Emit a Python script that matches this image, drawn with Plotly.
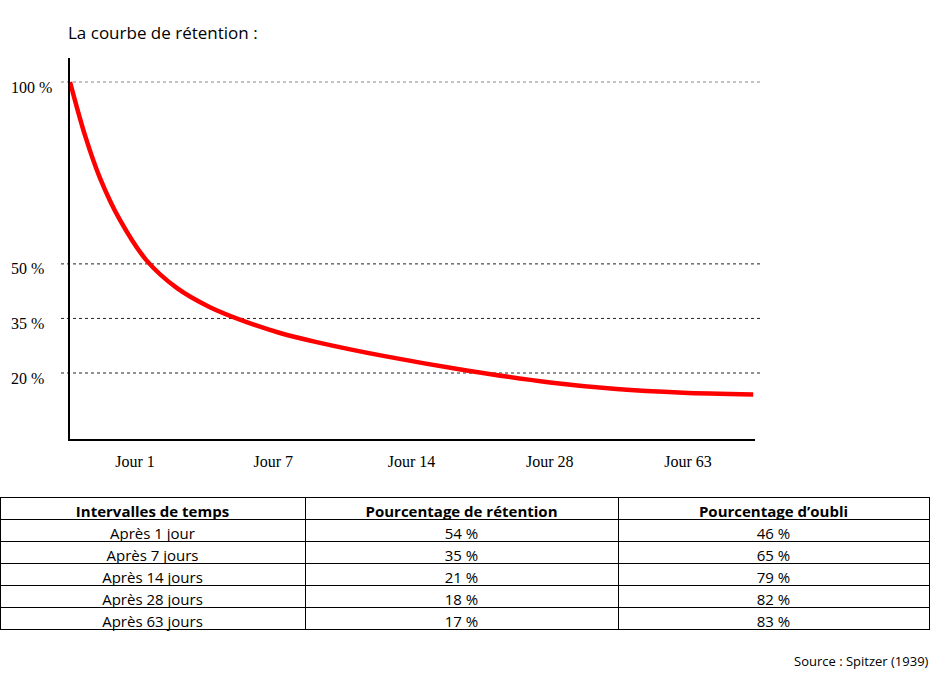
import plotly.graph_objects as go

# ---- data ----
title_text = "La courbe de rétention :"
source_text = "Source : Spitzer (1939)"

day_labels = ["Jour 1", "Jour 7", "Jour 14", "Jour 28", "Jour 63"]
day_positions = [1, 2, 3, 4, 5]

# retention curve (position along time axis, % retained)
curve_x = [0.530, 0.638, 0.747, 0.891, 1.085, 1.302, 1.542, 1.808, 2.049,
           2.314, 2.796, 3.399, 4.002, 4.484, 4.966, 5.472]
curve_y = [100, 85.4, 73.6, 62.1, 50.9, 43.4, 38.1, 34.0, 31.0,
           28.5, 24.7, 20.7, 17.4, 15.6, 14.6, 14.1]

ref_levels = [100, 50, 35, 20]
ref_labels = ["100 %", "50 %", "35 %", "20 %"]

table_header = ["Intervalles de temps", "Pourcentage de rétention", "Pourcentage d’oubli"]
intervals = ["Après 1 jour", "Après 7 jours", "Après 14 jours", "Après 28 jours", "Après 63 jours"]
retention = ["54 %", "35 %", "21 %", "18 %", "17 %"]
forgetting = ["46 %", "65 %", "79 %", "82 %", "83 %"]

W, H = 932, 673

fig = go.Figure()

fig.add_trace(go.Scatter(
    x=curve_x, y=curve_y, mode="lines",
    line=dict(color="#ff0000", width=4.5, shape="spline", smoothing=0.8),
    hoverinfo="skip", showlegend=False,
))

fig.add_trace(go.Table(
    domain=dict(x=[0, 929 / W], y=[0, 1 - 497.3 / H]),
    columnwidth=[305, 313, 311],
    header=dict(
        values=table_header,
        align="center", height=22,
        font=dict(family="Open Sans", size=15, color="black", weight="bold"),
        line=dict(color="black", width=1), fill=dict(color="white"),
    ),
    cells=dict(
        values=[intervals, retention, forgetting],
        align="center", height=22,
        font=dict(family="Open Sans", size=15, color="black"),
        line=dict(color="black", width=1), fill=dict(color="white"),
    ),
))

# dotted reference lines
for lvl in ref_levels:
    fig.add_shape(
        type="line", xref="paper", yref="y",
        x0=61 / W, x1=760.7 / W, y0=lvl, y1=lvl,
        line=dict(color="#888888" if lvl == 100 else "#222222", width=1, dash="dot"),
        layer="below",
    )

for lvl, lab in zip(ref_levels, ref_labels):
    fig.add_annotation(
        x=9 / W, xref="paper", y=lvl, yref="y", text=lab, showarrow=False,
        xanchor="left", yanchor="middle", yshift=-5,
        font=dict(family="Liberation Serif", size=16, color="black"),
    )

fig.add_annotation(
    x=66 / W, xref="paper", y=1 - 32 / H, yref="paper", text=title_text,
    showarrow=False, xanchor="left", yanchor="middle",
    font=dict(family="Open Sans", size=17, color="black"),
)
fig.add_annotation(
    x=931 / W, xref="paper", y=1 - 661 / H, yref="paper", text=source_text,
    showarrow=False, xanchor="right", yanchor="middle",
    font=dict(family="Open Sans", size=13, color="black"),
)

fig.update_layout(
    width=W, height=H,
    margin=dict(l=0, r=0, t=0, b=0),
    paper_bgcolor="white", plot_bgcolor="white",
    xaxis=dict(
        domain=[70 / W, 755 / W], range=[0.53, 5.485],
        tickvals=day_positions, ticktext=day_labels,
        showgrid=False, zeroline=False, showline=True,
        linecolor="black", linewidth=1.5, ticks="",
        ticklabelstandoff=7,
        tickfont=dict(family="Liberation Serif", size=16, color="black"),
        fixedrange=True,
    ),
    yaxis=dict(
        domain=[1 - 438.7 / H, 1 - 58 / H], range=[1.94, 106.6],
        showgrid=False, zeroline=False, showline=True,
        linecolor="black", linewidth=1.5, showticklabels=False, ticks="",
        fixedrange=True,
    ),
    showlegend=False,
)

fig.write_html("out.html")
